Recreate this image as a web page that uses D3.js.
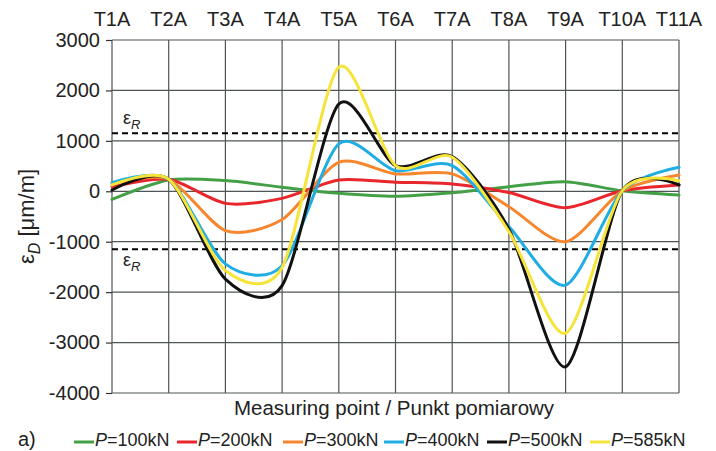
<!DOCTYPE html>
<html>
<head>
  <meta charset="utf-8">
  <style>
    body { margin: 0; background: #fff; }
    svg { display: block; font-family: "Liberation Sans", Arial, sans-serif; }
    .grid line { stroke: #4f5555; stroke-width: 1.2; }
    .curve { fill: none; stroke-width: 3; stroke-linecap: round; }
    .ref { stroke: #000; stroke-width: 2; stroke-dasharray: 6,4; }
  </style>
  <script src="https://d3js.org/d3.v7.min.js"></script>
</head>
<body>
  <div id="chartContainer"></div>

  <script>
    // measuring points and strain values (µm/m)
    var points = ["T1A", "T2A", "T3A", "T4A", "T5A", "T6A", "T7A", "T8A", "T9A", "T10A", "T11A"];
    var yTicks = [3000, 2000, 1000, 0, -1000, -2000, -3000, -4000];
    var loads = ["100kN", "200kN", "300kN", "400kN", "500kN", "585kN"];

    var p100 = [-160, 225, 212, 80, -40, -100, -30, 90, 190, 10, -75];
    var p200 = [90, 238, -240, -140, 225, 180, 145, -25, -325, 10, 125];
    var p300 = [145, 238, -780, -560, 575, 345, 345, -305, -1000, 10, 325];
    var p400 = [170, 238, -1440, -1475, 940, 410, 510, -700, -1860, 10, 475];
    var p500 = [25, 238, -1740, -1870, 1730, 510, 690, -750, -3480, 10, 125];
    var p585 = [125, 238, -1570, -1510, 2460, 510, 675, -800, -2815, 10, 210];
    var epsR = 1150;

    var colors = ["#43a047", "#e8262b", "#f7872f", "#1fade3", "#111111", "#f6e43a"];

    var svgWidth = 716, svgHeight = 451;
    var plotLeft = 112, plotRight = 679, plotTop = 40, plotBottom = 393;

    var svg = d3.select("#chartContainer")
      .append("svg")
      .attr("width", svgWidth)
      .attr("height", svgHeight);

    var xScale = d3.scalePoint()
      .domain(points)
      .range([plotLeft, plotRight]);

    var yScale = d3.scaleLinear()
      .domain([-4000, 3000])
      .range([plotBottom, plotTop]);

    // grid
    var grid = svg.append("g").attr("class", "grid");
    grid.selectAll(".v")
      .data(points)
      .enter()
      .append("line")
      .attr("x1", function (d) { return xScale(d); })
      .attr("x2", function (d) { return xScale(d); })
      .attr("y1", plotTop)
      .attr("y2", plotBottom);
    grid.selectAll(".h")
      .data(yTicks)
      .enter()
      .append("line")
      .attr("x1", plotLeft)
      .attr("x2", plotRight)
      .attr("y1", function (d) { return yScale(d); })
      .attr("y2", function (d) { return yScale(d); });

    // y axis (plain hyphen for negatives, like the original)
    var yAxis = svg.append("g")
      .attr("transform", "translate(" + plotLeft + ",0)")
      .call(d3.axisLeft(yScale).tickValues(yTicks).tickSize(6).tickPadding(6).tickFormat(function (d) { return String(d); }));
    yAxis.select(".domain").remove();
    yAxis.selectAll("line").attr("stroke", "#333").attr("stroke-width", 1.2);
    yAxis.selectAll("text")
      .attr("fill", "#222")
      .style("font-size", "20px")
      .style("font-family", "Liberation Sans, Arial, sans-serif");

    // point labels on top
    svg.selectAll(".plabel")
      .data(points)
      .enter()
      .append("text")
      .attr("x", function (d) { return xScale(d); })
      .attr("y", 26)
      .attr("text-anchor", "middle")
      .attr("fill", "#222")
      .style("font-size", "20px")
      .text(function (d) { return d; });

    // reference lines eps_R
    [epsR, -epsR].forEach(function (v) {
      svg.append("line")
        .attr("class", "ref")
        .attr("x1", plotLeft)
        .attr("x2", plotRight)
        .attr("y1", yScale(v))
        .attr("y2", yScale(v));
    });
    function epsLabel(x, y) {
      var t = svg.append("text").attr("x", x).attr("y", y).style("font-size", "18px").attr("fill", "#222");
      t.append("tspan").text("ε");
      t.append("tspan").attr("dy", 5).style("font-size", "13px").style("font-style", "italic").text("R");
    }
    epsLabel(123, yScale(epsR) - 9);
    epsLabel(123, yScale(-epsR) + 17);

    // curves
    var series = [p100, p200, p300, p400, p500, p585];
    var line = d3.line()
      .x(function (d, i) { return xScale(points[i]); })
      .y(function (d) { return yScale(d); })
      .curve(d3.curveCardinal.tension(0.2));

    svg.selectAll(".curve")
      .data(series)
      .enter()
      .append("path")
      .attr("class", "curve")
      .attr("stroke", function (d, i) { return colors[i]; })
      .attr("d", line);

    // axis titles
    var yt = svg.append("text")
      .attr("transform", "translate(34," + ((plotTop + plotBottom) / 2) + ") rotate(-90)")
      .attr("text-anchor", "middle")
      .attr("fill", "#222")
      .style("font-size", "22px");
    yt.append("tspan").text("ε");
    yt.append("tspan").attr("dy", 6).style("font-size", "16px").style("font-style", "italic").text("D");
    yt.append("tspan").attr("dy", -6).text(" [μm/m]");

    svg.append("text")
      .attr("x", 394)
      .attr("y", 415)
      .attr("text-anchor", "middle")
      .attr("fill", "#222")
      .style("font-size", "20.5px")
      .text("Measuring point / Punkt pomiarowy");

    // legend
    svg.append("text")
      .attr("x", 18)
      .attr("y", 446)
      .attr("fill", "#222")
      .style("font-size", "20px")
      .text("a)");

    var legendX = [74, 177, 283, 384, 487, 590];
    var leg = svg.selectAll(".leg")
      .data(loads)
      .enter()
      .append("g")
      .attr("transform", function (d, i) { return "translate(" + legendX[i] + ",0)"; });
    leg.append("line")
      .attr("x1", 0)
      .attr("x2", 20)
      .attr("y1", 442)
      .attr("y2", 442)
      .attr("stroke", function (d, i) { return colors[i]; })
      .attr("stroke-width", 3);
    var lt = leg.append("text")
      .attr("x", 21)
      .attr("y", 446)
      .attr("fill", "#222")
      .style("font-size", "18px");
    lt.append("tspan").style("font-style", "italic").text("P");
    lt.append("tspan").text(function (d) { return "=" + d; });
  </script>
</body>
</html>
